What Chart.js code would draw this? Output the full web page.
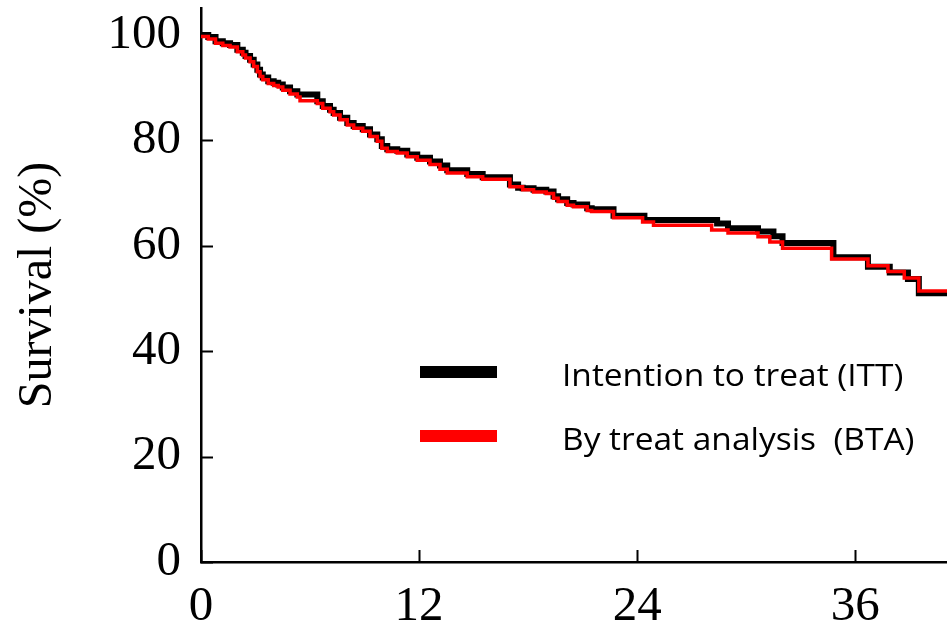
<!DOCTYPE html>
<html>
<head>
<meta charset="utf-8">
<script src="https://cdn.jsdelivr.net/npm/chart.js@4.4.1/dist/chart.umd.min.js"></script>
<style>
  html, body { margin: 0; padding: 0; background: #fff; }
  #wrap { width: 947px; height: 633px; }
</style>
</head>
<body>
<div id="wrap"><canvas id="cnv" width="947" height="633"></canvas></div>
<script>
(function(){

    // months of follow-up and survival (%) at each step
    var ittMonths = [0, 0.4, 0.8, 1.2, 1.6, 2.0, 2.3, 2.45, 2.7, 2.9, 3.1, 3.25, 3.4, 3.7, 4.0, 4.25, 4.5, 4.9, 5.3,
                     6.4, 6.7, 7.1, 7.3, 7.65, 8.05, 8.4, 8.9, 9.3, 9.7, 9.95, 10.25, 10.8, 11.35, 11.9, 12.6, 13.15, 13.55,
                     14.65, 15.5, 17.0, 17.45, 17.7, 18.3, 19.0, 19.4, 19.65, 20.15, 20.5, 21.25, 21.5, 22.7, 24.4,
                     28.4, 29.0, 30.65, 31.5, 32.0, 34.8, 36.7, 37.9, 38.9, 39.5, 41.05];
    var ittSurvival = [100, 99.6, 98.8, 98.4, 98.1, 97.2, 96.6, 96.0, 95.3, 94.4, 93.4, 92.5, 91.9, 91.2, 90.9, 90.6, 90.0, 89.3, 88.7,
                       87.4, 86.5, 85.8, 85.2, 84.3, 83.3, 82.7, 82.1, 81.1, 80.2, 78.9, 78.3, 78.0, 77.3, 76.7, 76.0, 75.2, 74.3,
                       73.6, 73.0, 71.6, 71.0, 70.9, 70.6, 70.3, 69.4, 68.8, 68.1, 67.8, 67.1, 66.9, 65.7, 64.9,
                       64.2, 63.3, 62.7, 61.8, 60.5, 57.8, 56.0, 54.9, 53.7, 51.0, 51.0];

    var btaMonths = [0, 0.4, 0.8, 1.2, 1.6, 2.0, 2.3, 2.45, 2.7, 2.9, 3.1, 3.25, 3.4, 3.7, 4.0, 4.25, 4.5, 4.9, 5.3, 5.45,
                     6.4, 6.7, 7.1, 7.3, 7.65, 8.05, 8.4, 8.9, 9.3, 9.7, 9.95, 10.25, 10.8, 11.35, 11.9, 12.6, 13.15, 13.55,
                     14.65, 15.5, 17.0, 17.7, 18.3, 19.0, 19.4, 19.65, 20.15, 20.5, 21.25, 21.5, 22.7, 24.3, 24.9,
                     28.1, 29.0, 30.65, 31.3, 32.0, 34.7, 36.7, 37.8, 38.7, 39.5, 41.05];
    var btaSurvival = [99.7, 99.2, 98.4, 98.0, 97.7, 96.8, 96.2, 95.6, 94.9, 94.0, 93.0, 92.1, 91.5, 90.8, 90.4, 90.1, 89.5, 88.8, 88.2, 87.5,
                       87.0, 86.1, 85.4, 84.8, 83.9, 82.9, 82.3, 81.7, 80.7, 79.8, 78.5, 77.9, 77.6, 76.9, 76.2, 75.4, 74.5, 73.8,
                       73.1, 72.6, 71.2, 70.6, 70.2, 69.9, 69.0, 68.4, 67.7, 67.4, 66.7, 66.5, 65.3, 64.5, 63.9,
                       63.0, 62.4, 61.7, 60.7, 59.5, 57.5, 56.2, 55.1, 53.9, 51.4, 51.4];

    var seriesLabels = ["Intention to treat (ITT)", "By treat analysis  (BTA)"];
    var xTicks = [0, 12, 24, 36];
    var yTicks = [0, 20, 40, 60, 80, 100];

    function pts(xs, ys){
        var out = [];
        for (var i = 0; i < xs.length; i++) out.push({x: xs[i], y: ys[i]});
        return out;
    }

    var serif = "'Liberation Serif', 'Times New Roman', serif";

    // small ticks pointing into the plot
    var innerTicks = {
        id: 'innerTicks',
        beforeDatasetsDraw: function(chart){
            var ctx = chart.ctx, a = chart.chartArea, sx = chart.scales.x, sy = chart.scales.y;
            ctx.save();
            ctx.strokeStyle = '#000';
            ctx.lineWidth = 2;
            ctx.beginPath();
            xTicks.forEach(function(v){
                var px = Math.round(sx.getPixelForValue(v)) + 0.5;
                ctx.moveTo(px, a.bottom); ctx.lineTo(px, a.bottom - 12);
            });
            yTicks.forEach(function(v){
                var py = Math.round(sy.getPixelForValue(v)) + 0.5;
                ctx.moveTo(a.left, py); ctx.lineTo(a.left + 12, py);
            });
            ctx.stroke();
            ctx.restore();
        }
    };

    // legend inside the plot
    var insideLegend = {
        id: 'insideLegend',
        afterDraw: function(chart){
            var ctx = chart.ctx;
            ctx.save();
            ctx.font = "31px 'Open Sans', Lato, sans-serif";
            ctx.textBaseline = 'alphabetic';
            chart.data.datasets.forEach(function(ds, i){
                var cy = 372 + i * 64;
                ctx.fillStyle = ds.borderColor;
                ctx.fillRect(420, cy - 6, 77, 12);
                ctx.fillStyle = '#000';
                ctx.save();
                ctx.translate(562, cy + 14);
                ctx.scale(1.08, 1);   // the source text is a little wide
                ctx.fillText(ds.label, 0, 0);
                ctx.restore();
            });
            ctx.restore();
        }
    };

    var myChart = new Chart(document.getElementById('cnv'), {
        type: 'line',
        data: {
            datasets: [
                {
                    label: seriesLabels[0],
                    data: pts(ittMonths, ittSurvival),
                    borderColor: '#000000',
                    borderWidth: 6,
                    stepped: 'before',
                    pointRadius: 0,
                    fill: false,
                    order: 2
                },
                {
                    label: seriesLabels[1],
                    data: pts(btaMonths, btaSurvival),
                    borderColor: '#ff0000',
                    borderWidth: 3.5,
                    stepped: 'before',
                    pointRadius: 0,
                    fill: false,
                    order: 1
                }
            ]
        },
        options: {
            responsive: false,
            animation: false,
            layout: { padding: { top: 8, right: 0, left: 0, bottom: 0 } },
            plugins: {
                legend: { display: false },
                tooltip: { enabled: false }
            },
            scales: {
                x: {
                    type: 'linear',
                    min: 0,
                    max: 41.05,
                    afterFit: function(s){ s.height = 71; s.paddingLeft = 0; s.paddingRight = 0; },
                    afterBuildTicks: function(s){ s.ticks = xTicks.map(function(v){ return {value: v}; }); },
                    grid: { display: true, drawOnChartArea: false, drawTicks: false },
                    border: { display: true, color: '#000', width: 2.5 },
                    ticks: {
                        color: '#000',
                        padding: 16,
                        maxRotation: 0,
                        font: { family: serif, size: 49 }
                    }
                },
                y: {
                    type: 'linear',
                    min: 0,
                    max: 105.1,
                    afterFit: function(s){ s.width = 201; s.paddingTop = 0; s.paddingBottom = 0; },
                    afterBuildTicks: function(s){ s.ticks = yTicks.map(function(v){ return {value: v}; }); },
                    grid: { display: true, drawOnChartArea: false, drawTicks: false },
                    border: { display: true, color: '#000', width: 2.5 },
                    ticks: {
                        color: '#000',
                        padding: 20,
                        font: { family: serif, size: 49 }
                    },
                    title: {
                        display: true,
                        text: 'Survival (%)',
                        color: '#000',
                        padding: { top: 10, bottom: 0 },
                        font: { family: serif, size: 48 }
                    }
                }
            }
        },
        plugins: [innerTicks, insideLegend]
    });

})();
</script>
</body>
</html>
